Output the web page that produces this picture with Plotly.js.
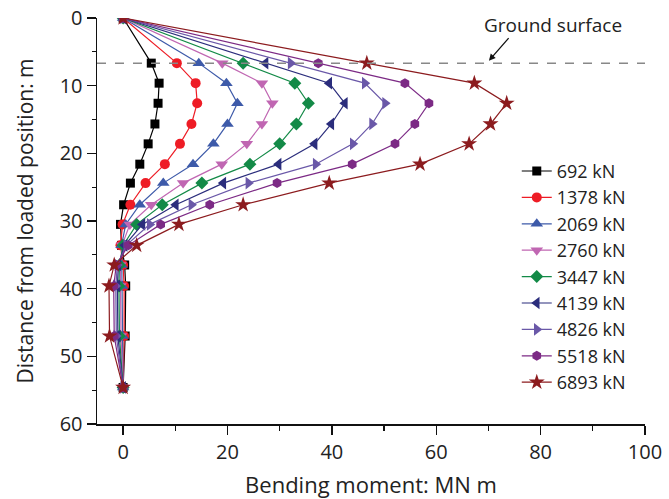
<!DOCTYPE html>
<html>
<head>
<meta charset="utf-8">
<script src="https://cdn.plot.ly/plotly-3.0.1.min.js"></script>
<style>html,body{margin:0;padding:0;background:#fff;}#chart{width:669px;height:499px;}</style>
</head>
<body>
<div id="chart"></div>
<script>
// Depth below loaded position (m)
const depth = [0, 6.67, 9.63, 12.6, 15.66, 18.6, 21.6, 24.4, 27.6, 30.5, 33.6, 36.5, 39.6, 47.0, 54.6];
const loads = ["692 kN", "1378 kN", "2069 kN", "2760 kN", "3447 kN", "4139 kN", "4826 kN", "5518 kN", "6893 kN"];
// Bending moment (MN m) for each load
const m692  = [0, 5.4, 6.9, 6.7, 6.1, 4.8, 3.2, 1.4, 0.1, -0.5, -0.3, 0.3, 0.5, 0.4, 0];
const m1378 = [0, 10.3, 13.9, 14.2, 13.1, 10.9, 8.0, 4.3, 1.4, -0.1, -0.5, 0.0, 0.2, 0.2, 0];
const m2069 = [0, 14.5, 19.8, 21.9, 20.0, 17.3, 13.4, 7.7, 3.2, 0.5, -0.3, -0.3, -0.2, -0.1, 0];
const m2760 = [0, 19.0, 26.6, 28.6, 26.6, 23.7, 18.9, 11.5, 5.4, 1.3, -0.2, -0.5, -0.5, -0.4, 0];
const m3447 = [0, 23.0, 32.9, 35.5, 33.2, 30.0, 24.3, 15.1, 7.5, 2.6, 0.0, -0.7, -0.8, -0.7, 0];
const m4139 = [0, 27.3, 39.5, 42.5, 39.9, 36.7, 29.8, 19.2, 10.1, 3.7, 0.3, -0.9, -1.1, -1.0, 0];
const m4826 = [0, 32.1, 46.3, 50.2, 47.7, 44.0, 36.9, 24.0, 13.1, 5.1, 0.6, -1.1, -1.4, -1.3, 0];
const m5518 = [0, 37.4, 54.0, 58.6, 55.9, 52.1, 43.9, 29.5, 16.6, 7.2, 1.0, -1.3, -1.8, -1.7, 0];
const m6893 = [0, 46.7, 67.3, 73.5, 70.4, 66.3, 56.9, 39.5, 23.0, 10.7, 2.6, -1.7, -2.7, -2.6, 0];
const groundDepth = 6.67;

const series = [m692, m1378, m2069, m2760, m3447, m4139, m4826, m5518, m6893];
const colors = ["#000000", "#ee1c25", "#3d5aa9", "#c066b2", "#138a47", "#2b2d7c", "#6a58a8", "#7c2a85", "#8c1b1e"];
const symbols = ["square", "circle", "triangle-up", "triangle-down", "diamond", "triangle-left", "triangle-right", "hexagon", "star"];
const sizes = [9, 10, 11, 11, 10, 11, 11, 10, 12];

const traces = series.map((s, i) => ({
  x: s, y: depth, name: loads[i], type: "scatter", mode: "lines+markers",
  line: {color: colors[i], width: 1.2},
  marker: {symbol: symbols[i], size: sizes[i], color: colors[i], line: {width: 0}}
}));

const font = {family: "Open Sans, Noto Sans, sans-serif", color: "#222"};

const layout = {
  width: 669, height: 499,
  margin: {l: 97, r: 24, t: 18, b: 75},
  paper_bgcolor: "#fff", plot_bgcolor: "#fff",
  font: Object.assign({size: 20}, font),
  showlegend: true,
  legend: {x: 0.766, y: 0.668, xanchor: "left", yanchor: "top", bgcolor: "rgba(0,0,0,0)",
           font: Object.assign({size: 18}, font), tracegroupgap: 0},
  xaxis: {
    range: [-5, 100], autorange: false, showgrid: false, zeroline: false,
    showline: true, linecolor: "#111", linewidth: 1.5,
    ticks: "outside", ticklen: 9, tickwidth: 1.3, tickcolor: "#111",
    tickvals: [0, 20, 40, 60, 80, 100],
    minor: {tickvals: [10, 30, 50, 70, 90], ticks: "outside", ticklen: 5, tickwidth: 1.3, tickcolor: "#111"},
    tickfont: Object.assign({size: 20}, font),
    title: {text: "Bending moment: MN m", font: Object.assign({size: 22}, font), standoff: 14}
  },
  yaxis: {
    range: [60, 0], autorange: false, showgrid: false, zeroline: false,
    showline: true, linecolor: "#111", linewidth: 1.5,
    ticks: "outside", ticklen: 9, tickwidth: 1.3, tickcolor: "#111",
    tickvals: [0, 10, 20, 30, 40, 50, 60],
    minor: {tickvals: [5, 15, 25, 35, 45, 55], ticks: "outside", ticklen: 4, tickwidth: 1.3, tickcolor: "#111"},
    tickfont: Object.assign({size: 20}, font),
    title: {text: "Distance from loaded position: m", font: Object.assign({size: 21}, font), standoff: 20}
  },
  shapes: [{type: "line", xref: "x", yref: "y", x0: -5, x1: 100, y0: groundDepth, y1: groundDepth,
            line: {color: "#888", width: 1.5, dash: "dash"}}],
  annotations: [
    {xref: "x", yref: "y", x: 82.4, y: 1.1, text: "Ground surface", showarrow: false,
     font: Object.assign({size: 19}, font)},
    {xref: "x", yref: "y", x: 70.1, y: 6.3, text: "", showarrow: true, ax: 21, ay: -24,
     arrowhead: 2, arrowsize: 1, arrowwidth: 1.3, arrowcolor: "#111"}
  ]
};

Plotly.newPlot("chart", traces, layout, {staticPlot: true, displayModeBar: false});
</script>
</body>
</html>
